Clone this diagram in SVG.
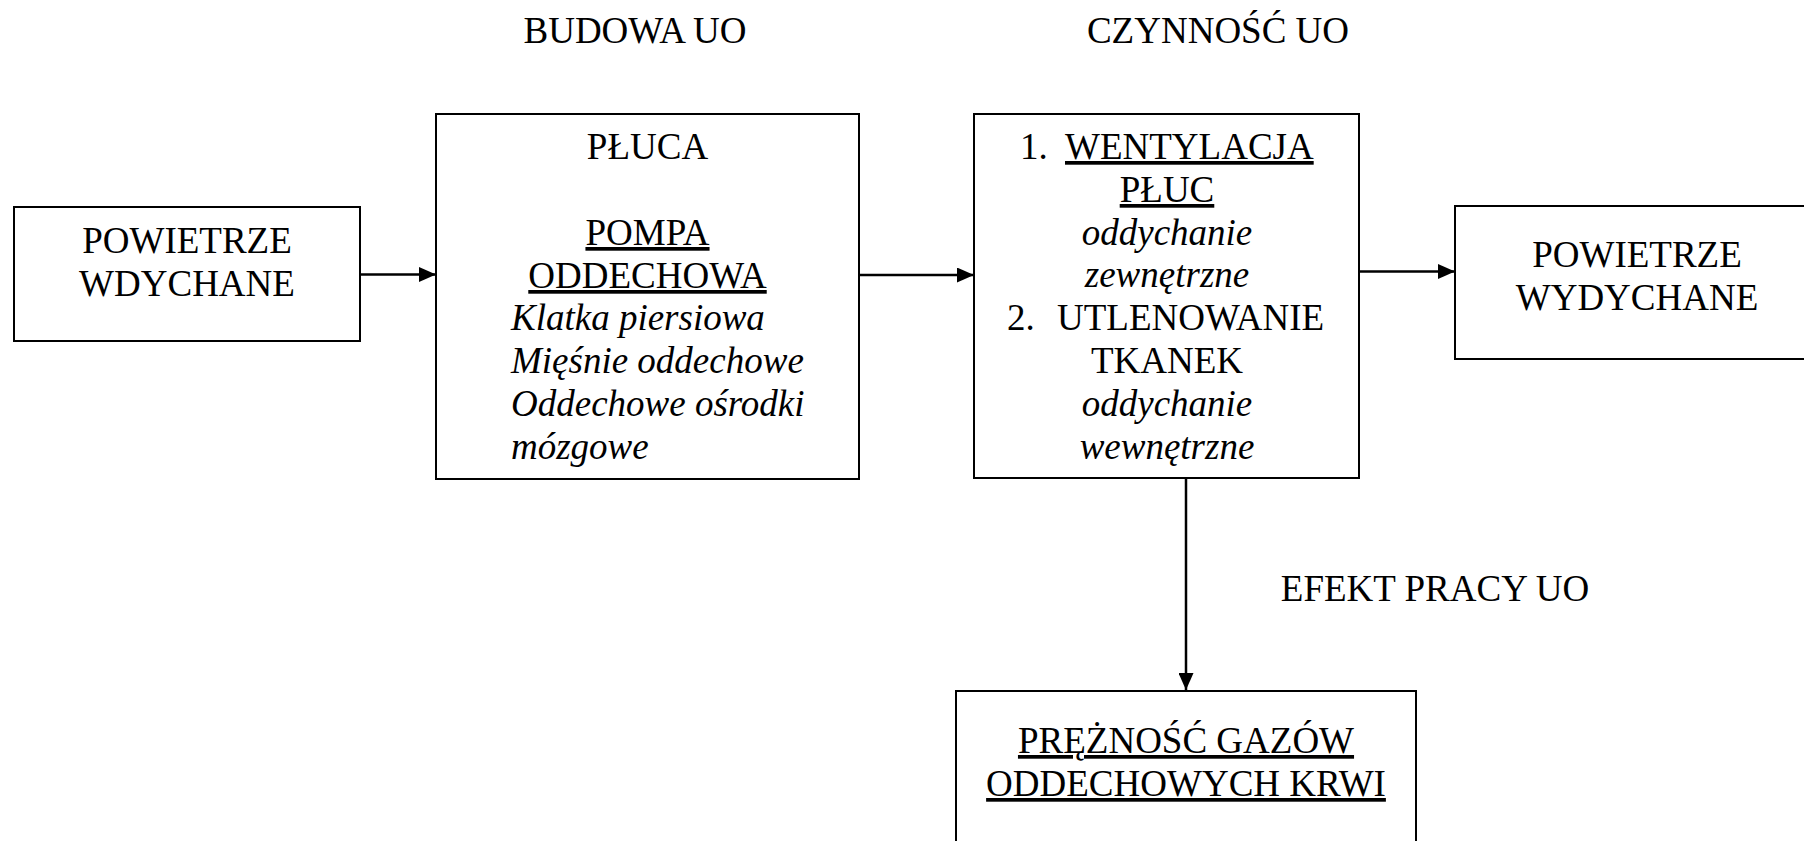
<svg xmlns="http://www.w3.org/2000/svg" width="1804" height="841" viewBox="0 0 1804 841">
<style>
text{font-family:"Liberation Serif","Times New Roman",serif;font-size:37px;fill:#000}
.c{text-anchor:middle}
.i{font-style:italic}
.u{text-decoration:underline}
.box{fill:#fff;stroke:#000;stroke-width:2}
.conn{stroke:#000;stroke-width:2.5;fill:none}
</style>
<defs>
<marker id="ah" viewBox="0 0 17 15" refX="17" refY="7.5" markerWidth="17" markerHeight="15" markerUnits="userSpaceOnUse" orient="auto">
<path d="M0,0 L17,7.5 L0,15 z" fill="#000"/>
</marker>
</defs>
<rect width="1804" height="841" fill="#fff"/>
<g id="titles">
<text class="c" x="635" y="43">BUDOWA UO</text>
<text class="c" x="1218" y="43">CZYNNOŚĆ UO</text>
<text class="c" x="1435" y="601">EFEKT PRACY UO</text>
</g>
<g id="connectors">
<line class="conn" x1="360" y1="274.5" x2="436" y2="274.5" marker-end="url(#ah)"/>
<line class="conn" x1="859" y1="275" x2="974" y2="275" marker-end="url(#ah)"/>
<line class="conn" x1="1359" y1="271.5" x2="1455" y2="271.5" marker-end="url(#ah)"/>
<line class="conn" x1="1186" y1="478" x2="1186" y2="690" marker-end="url(#ah)"/>
</g>
<g id="node-powietrze-wdychane">
<rect class="box" x="14" y="207" width="346" height="134"/>
<text class="c" x="187" y="253">POWIETRZE</text>
<text class="c" x="187" y="296">WDYCHANE</text>
</g>
<g id="node-pluca">
<rect class="box" x="436" y="114" width="423" height="365"/>
<text class="c" x="647.5" y="159">PŁUCA</text>
<text class="c u" x="647.5" y="245">POMPA</text>
<text class="c u" x="647.5" y="288">ODDECHOWA</text>
<text class="i" x="511" y="330">Klatka piersiowa</text>
<text class="i" x="511" y="373">Mięśnie oddechowe</text>
<text class="i" x="511" y="416">Oddechowe ośrodki</text>
<text class="i" x="511" y="459">mózgowe</text>
</g>
<g id="node-czynnosc">
<rect class="box" x="974" y="114" width="385" height="364"/>
<text x="1020" y="159">1.</text>
<text class="u" x="1065" y="159">WENTYLACJA</text>
<text class="c u" x="1167" y="202">PŁUC</text>
<text class="c i" x="1167" y="245">oddychanie</text>
<text class="c i" x="1167" y="287">zewnętrzne</text>
<text x="1007" y="330">2.</text>
<text x="1057" y="330">UTLENOWANIE</text>
<text class="c" x="1167" y="373">TKANEK</text>
<text class="c i" x="1167" y="416">oddychanie</text>
<text class="c i" x="1167" y="459">wewnętrzne</text>
</g>
<g id="node-powietrze-wydychane">
<rect class="box" x="1455" y="206" width="370" height="153"/>
<text class="c" x="1637" y="267">POWIETRZE</text>
<text class="c" x="1637" y="310">WYDYCHANE</text>
</g>
<g id="node-preznosc">
<rect class="box" x="956" y="691" width="460" height="170"/>
<text class="c u" x="1186" y="753">PRĘŻNOŚĆ GAZÓW</text>
<text class="c u" x="1186" y="796">ODDECHOWYCH KRWI</text>
</g>
</svg>
